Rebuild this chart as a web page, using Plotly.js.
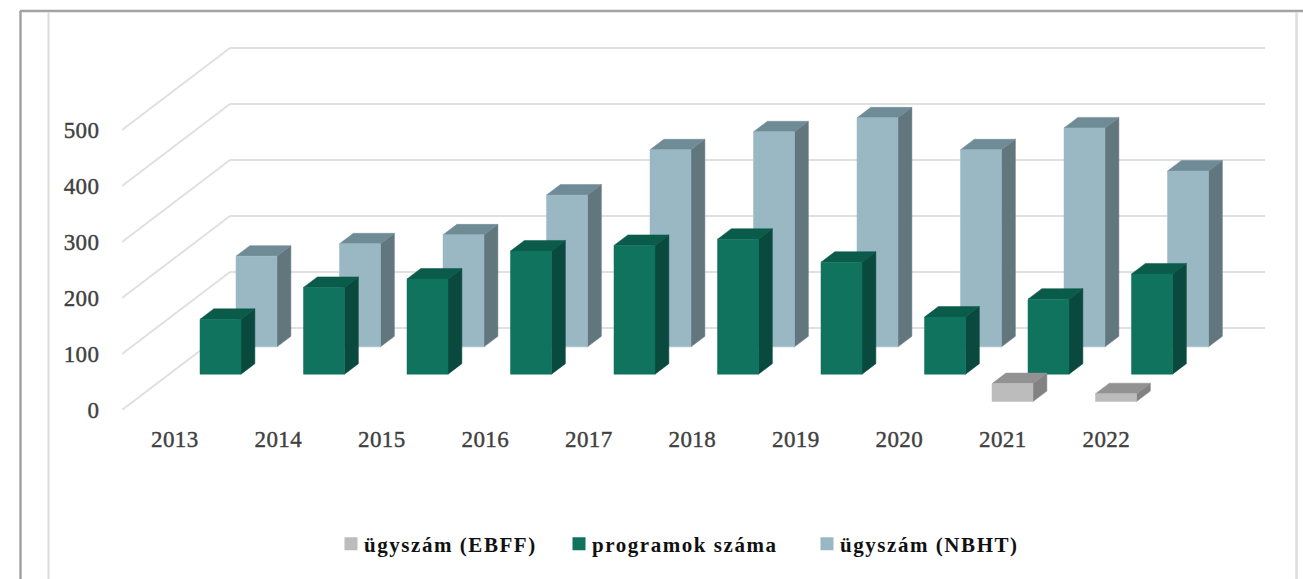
<!DOCTYPE html>
<html>
<head>
<meta charset="utf-8">
<script src="https://cdn.plot.ly/plotly-3.0.1.min.js"></script>
<style>
html,body{margin:0;padding:0;background:#fff;overflow:hidden}
.infolayer text{letter-spacing:1.55px}
.legendsymbols{transform:translateX(7px)}
.xtick text,.ytick text{letter-spacing:.4px;stroke:#404040;stroke-width:.4px}
</style>
</head>
<body>
<div id="chart" style="width:1303px;height:579px"></div>
<script>
var years = ['2013','2014','2015','2016','2017','2018','2019','2020','2021','2022'];
var yTicks = [0,100,200,300,400,500];
var ebffValues = [null,null,null,null,null,null,null,null,32,14];
var programValues = [98,155,170,220,230,241,200,102,134,179];
var nbhtValues = [162,184,200,271,352,384,409,352,391,314];
var seriesNames = ['ügyszám (EBFF)','programok száma','ügyszám (NBHT)'];

// Oblique projection of the 3-D column chart onto the 2-D axes
var pxPerCat = 103.5, pxPerUnit = 0.56;
var depthX = 36/pxPerCat, depthY = 27.33/pxPerUnit;   // one series row of depth
var barW = 41/pxPerCat, barD = 0.385, rowGap = 0.31;
function px(i,u,d){return i+u+d*depthX;}
function py(v,d){return v+d*depthY;}

var traces = [];
// gridlines: side wall and back wall
yTicks.forEach(function(t){
  traces.push({type:'scatter',mode:'lines',showlegend:false,hoverinfo:'skip',
    x:[0,px(0,0,3),10+px(0,0,3)],y:[t,py(t,3),py(t,3)],
    line:{color:'#e0e0e0',width:2}});
});
function face(xs,ys,color){
  traces.push({type:'scatter',mode:'lines',fill:'toself',fillcolor:color,showlegend:false,
    hoverinfo:'skip',x:xs.concat(xs[0]),y:ys.concat(ys[0]),line:{color:color,width:0.5}});
}
function bars(values,row,cFront,cTop,cSide){
  var d0=row+rowGap,d1=d0+barD;
  values.forEach(function(v,i){
    if(v===null) return;
    var u0=(1-barW)/2-0.004,u1=u0+barW;
    face([px(i,u1,d0),px(i,u1,d1),px(i,u1,d1),px(i,u1,d0)],[py(0,d0),py(0,d1),py(v,d1),py(v,d0)],cSide);
    face([px(i,u0,d0),px(i,u1,d0),px(i,u1,d1),px(i,u0,d1)],[py(v,d0),py(v,d0),py(v,d1),py(v,d1)],cTop);
    face([px(i,u0,d0),px(i,u1,d0),px(i,u1,d0),px(i,u0,d0)],[py(0,d0),py(0,d0),py(v,d0),py(v,d0)],cFront);
  });
}
bars(nbhtValues,2,'#9ab8c4','#6f8b96','#62767e');
bars(programValues,1,'#0f735e','#0a5b4a','#0a4a3e');
bars(ebffValues,0,'#bcbcbc','#929292','#828282');

// legend entries
var legendColors=['#bcbcbc','#0f735e','#9ab8c4'];
seriesNames.forEach(function(n,k){
  traces.push({type:'scatter',mode:'markers',name:n,x:[null],y:[null],
    legend:k===0?'legend':'legend'+(k+1),
    marker:{symbol:'square',size:13,color:legendColors[k]}});
});

var L=122,T=40,W=1148,H=370;
function xp(p){return (p-L)/W;}
function yp(p){return 1-(p-T)/H;}
function vline(x,y0,y1,c,w){return {type:'line',xref:'paper',yref:'paper',x0:xp(x),x1:xp(x),y0:yp(y0),y1:yp(y1),line:{color:c,width:w}};}
function hline(y,x0,x1,c,w){return {type:'line',xref:'paper',yref:'paper',y0:yp(y),y1:yp(y),x0:xp(x0),x1:xp(x1),line:{color:c,width:w}};}
function leg(x){return {orientation:'h',x:xp(x),xanchor:'left',y:yp(544),yanchor:'middle',bgcolor:'rgba(0,0,0,0)',
  entrywidth:200,entrywidthmode:'pixels',
  font:{family:'"Liberation Serif",serif',size:21,color:'#111',weight:700},itemclick:false,itemdoubleclick:false};}

var layout={
  width:1303,height:579,autosize:false,
  margin:{l:L,t:T,r:1303-L-W,b:579-T-H,pad:0},
  paper_bgcolor:'#fff',plot_bgcolor:'rgba(0,0,0,0)',
  showlegend:true,
  legend:leg(324),legend2:leg(552),legend3:leg(800),
  xaxis:{range:[0,W/pxPerCat],showgrid:false,zeroline:false,showline:false,fixedrange:true,
    tickmode:'array',tickvals:years.map(function(y,i){return i+0.51;}),ticktext:years,
    ticks:'outside',ticklen:8,tickcolor:'rgba(0,0,0,0)',
    tickfont:{family:'"Liberation Serif",serif',size:23,color:'#404040'}},
  yaxis:{range:[0,H/pxPerUnit],showgrid:false,zeroline:false,showline:false,fixedrange:true,
    tickmode:'array',tickvals:yTicks,ticktext:yTicks.map(String),
    ticks:'outside',ticklen:17,tickcolor:'rgba(0,0,0,0)',
    tickfont:{family:'"Liberation Serif",serif',size:23,color:'#404040'}},
  shapes:[
    hline(11,20,1303,'#a3a3a3',2.5),
    vline(20.5,11,579,'#a3a3a3',2.5),
    vline(48.5,12,579,'#dcdcdc',2),
    vline(1296.5,12,579,'#dcdcdc',2.5)
  ]
};
Plotly.newPlot('chart',traces,layout,{staticPlot:true,displayModeBar:false});
</script>
</body>
</html>
